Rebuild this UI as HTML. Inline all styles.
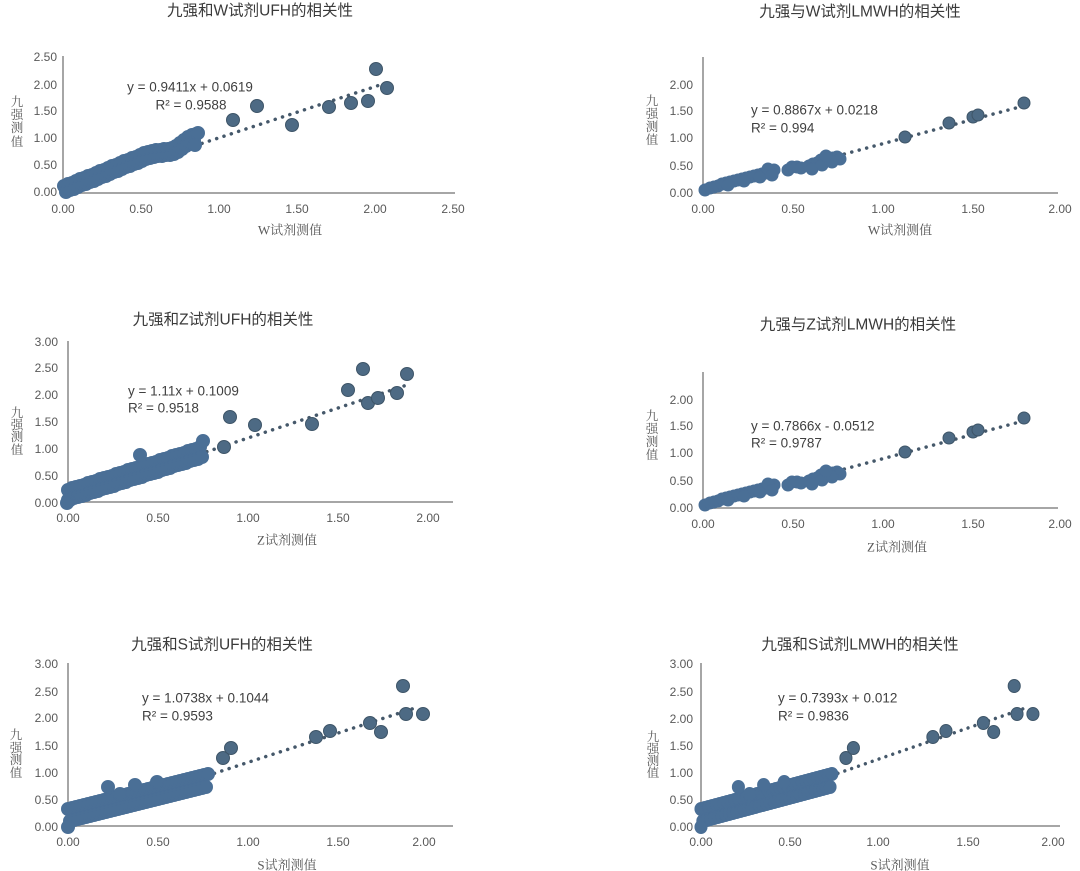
<!DOCTYPE html>
<html><head><meta charset="utf-8"><style>
html,body{margin:0;padding:0;background:#fff;}
svg{display:block;}
.t{font-family:"Liberation Sans","Noto Sans CJK SC",sans-serif;font-size:15.5px;fill:#3a3a3a;}
.tk{font-family:"Liberation Sans",sans-serif;font-size:12px;fill:#595959;}
.eq{font-family:"Liberation Sans",sans-serif;font-size:13.5px;fill:#404040;}
.ax{font-family:"Liberation Serif","Noto Serif CJK SC",serif;font-size:13px;fill:#595959;}
.yt{font-family:"Liberation Serif","Noto Serif CJK SC",serif;font-size:12.5px;fill:#595959;}
.axis{stroke:#a6a6a6;stroke-width:2;fill:none;}
.tr{stroke:#45586a;stroke-width:3.5;stroke-linecap:round;stroke-dasharray:0.1 7.6;fill:none;}
.d circle{fill:#4a6f96;stroke:#4a6f96;stroke-width:1;}
.o circle{fill:#4d6a84;stroke:#3e5568;stroke-width:1;}
</style></head><body>
<svg width="1080" height="871" viewBox="0 0 1080 871" xmlns="http://www.w3.org/2000/svg">
<rect width="1080" height="871" fill="#fff"/>

<!-- ============ Chart 1 ============ -->
<text class="t" x="260" y="11" text-anchor="middle" dominant-baseline="central">九强和W试剂UFH的相关性</text>
<path class="axis" d="M63 56 V193 H455"/>
<g class="tk" text-anchor="end" dominant-baseline="central">
<text x="57" y="192">0.00</text><text x="57" y="165">0.50</text><text x="57" y="138">1.00</text><text x="57" y="111">1.50</text><text x="57" y="85">2.00</text><text x="57" y="57">2.50</text>
</g>
<g class="tk" text-anchor="middle" dominant-baseline="central">
<text x="63" y="209">0.00</text><text x="141" y="209">0.50</text><text x="219" y="209">1.00</text><text x="297" y="209">1.50</text><text x="375" y="209">2.00</text><text x="453" y="209">2.50</text>
</g>
<g class="yt" text-anchor="middle" dominant-baseline="central"><text x="17" y="102">九</text><text x="17" y="115">强</text><text x="17" y="128">测</text><text x="17" y="142">值</text></g>
<text class="ax" x="290" y="230" text-anchor="middle" dominant-baseline="central">W试剂测值</text>
<text class="eq" x="190" y="87" text-anchor="middle" dominant-baseline="central">y = 0.9411x + 0.0619</text>
<text class="eq" x="191" y="105" text-anchor="middle" dominant-baseline="central">R² = 0.9588</text>
<path class="tr" d="M63 189 L386 83"/>
<g class="d">
<circle cx="64" cy="186" r="6.5"/><circle cx="66" cy="192" r="6.5"/><circle cx="68" cy="184" r="6.5"/><circle cx="70" cy="190" r="6.5"/><circle cx="72" cy="183" r="6.5"/><circle cx="74" cy="189" r="6.5"/><circle cx="76" cy="181" r="6.5"/><circle cx="78" cy="187" r="6.5"/><circle cx="80" cy="179" r="6.5"/><circle cx="82" cy="185" r="6.5"/><circle cx="84" cy="178" r="6.5"/><circle cx="86" cy="184" r="6.5"/><circle cx="88" cy="176" r="6.5"/><circle cx="90" cy="182" r="6.5"/><circle cx="92" cy="175" r="6.5"/><circle cx="94" cy="181" r="6.5"/><circle cx="96" cy="173" r="6.5"/><circle cx="98" cy="179" r="6.5"/><circle cx="100" cy="171" r="6.5"/><circle cx="102" cy="177" r="6.5"/><circle cx="104" cy="170" r="6.5"/><circle cx="106" cy="176" r="6.5"/><circle cx="108" cy="168" r="6.5"/><circle cx="110" cy="174" r="6.5"/><circle cx="112" cy="166" r="6.5"/><circle cx="114" cy="172" r="6.5"/><circle cx="116" cy="165" r="6.5"/><circle cx="118" cy="171" r="6.5"/><circle cx="120" cy="163" r="6.5"/><circle cx="122" cy="169" r="6.5"/><circle cx="124" cy="161" r="6.5"/><circle cx="126" cy="167" r="6.5"/><circle cx="128" cy="160" r="6.5"/><circle cx="130" cy="166" r="6.5"/><circle cx="132" cy="158" r="6.5"/><circle cx="134" cy="164" r="6.5"/><circle cx="136" cy="157" r="6.5"/><circle cx="138" cy="163" r="6.5"/><circle cx="140" cy="155" r="6.5"/><circle cx="142" cy="161" r="6.5"/><circle cx="144" cy="153" r="6.5"/><circle cx="146" cy="159" r="6.5"/><circle cx="148" cy="152" r="6.5"/><circle cx="150" cy="158" r="6.5"/><circle cx="152" cy="151" r="6.5"/><circle cx="154" cy="157" r="6.5"/><circle cx="156" cy="150" r="6.5"/><circle cx="158" cy="156" r="6.5"/><circle cx="160" cy="150" r="6.5"/><circle cx="162" cy="156" r="6.5"/><circle cx="164" cy="149" r="6.5"/><circle cx="166" cy="155" r="6.5"/><circle cx="168" cy="149" r="6.5"/><circle cx="170" cy="155" r="6.5"/><circle cx="172" cy="148" r="6.5"/><circle cx="174" cy="154" r="6.5"/><circle cx="176" cy="146" r="6.5"/><circle cx="178" cy="152" r="6.5"/><circle cx="180" cy="143" r="6.5"/><circle cx="182" cy="149" r="6.5"/><circle cx="184" cy="140" r="6.5"/><circle cx="186" cy="146" r="6.5"/><circle cx="188" cy="137" r="6.5"/><circle cx="190" cy="143" r="6.5"/><circle cx="192" cy="135" r="6.5"/><circle cx="194" cy="141" r="6.5"/><circle cx="196" cy="134" r="6.5"/><circle cx="198" cy="133" r="6.5"/><circle cx="195" cy="145" r="6.5"/>
</g>
<g class="o">
<circle cx="233" cy="120" r="6.5"/><circle cx="257" cy="106" r="6.5"/><circle cx="292" cy="125" r="6.5"/><circle cx="329" cy="107" r="6.5"/><circle cx="351" cy="103" r="6.5"/><circle cx="368" cy="101" r="6.5"/><circle cx="376" cy="69" r="6.5"/><circle cx="387" cy="88" r="6.5"/>
</g>

<!-- ============ Chart 2 ============ -->
<text class="t" x="860" y="12" text-anchor="middle" dominant-baseline="central">九强与W试剂LMWH的相关性</text>
<text class="t" x="858" y="325" text-anchor="middle" dominant-baseline="central">九强与Z试剂LMWH的相关性</text>
<g id="c2">
<path class="axis" d="M703 57 V193 H1058"/>
<g class="tk" text-anchor="end" dominant-baseline="central">
<text x="693" y="193">0.00</text><text x="693" y="166">0.50</text><text x="693" y="138">1.00</text><text x="693" y="111">1.50</text><text x="693" y="85">2.00</text>
</g>
<g class="tk" text-anchor="middle" dominant-baseline="central">
<text x="703" y="209">0.00</text><text x="793" y="209">0.50</text><text x="883" y="209">1.00</text><text x="973" y="209">1.50</text><text x="1060" y="209">2.00</text>
</g>
<g class="yt" text-anchor="middle" dominant-baseline="central"><text x="652" y="101">九</text><text x="652" y="114">强</text><text x="652" y="127">测</text><text x="652" y="140">值</text></g>
<path class="tr" d="M703 192 L1027 105"/>
<g class="d">
<circle cx="705" cy="190" r="6"/><circle cx="710" cy="188" r="6"/><circle cx="714" cy="187" r="6"/><circle cx="718" cy="186" r="6"/><circle cx="722" cy="184" r="6"/><circle cx="726" cy="183" r="6"/><circle cx="730" cy="182" r="6"/><circle cx="734" cy="181" r="6"/><circle cx="738" cy="180" r="6"/><circle cx="742" cy="179" r="6"/><circle cx="746" cy="178" r="6"/><circle cx="750" cy="177" r="6"/><circle cx="754" cy="176" r="6"/><circle cx="758" cy="175" r="6"/><circle cx="762" cy="174" r="6"/><circle cx="766" cy="173" r="6"/><circle cx="770" cy="172" r="6"/><circle cx="774" cy="170" r="6"/>
<circle cx="728" cy="185" r="6"/><circle cx="744" cy="181" r="6"/><circle cx="760" cy="177" r="6"/><circle cx="768" cy="169" r="6"/><circle cx="772" cy="175" r="6"/>
<circle cx="788" cy="170" r="6"/><circle cx="792" cy="167" r="6"/><circle cx="797" cy="167" r="6"/><circle cx="801" cy="168" r="6"/><circle cx="809" cy="166" r="6"/><circle cx="813" cy="164" r="6"/><circle cx="817" cy="163" r="6"/><circle cx="821" cy="160" r="6"/><circle cx="825" cy="159" r="6"/><circle cx="829" cy="158" r="6"/><circle cx="833" cy="158" r="6"/><circle cx="837" cy="157" r="6"/><circle cx="840" cy="159" r="6"/>
<circle cx="812" cy="169" r="6"/><circle cx="822" cy="165" r="6"/><circle cx="832" cy="162" r="6"/><circle cx="826" cy="156" r="6"/>
</g>
<g class="o">
<circle cx="905" cy="137" r="6"/><circle cx="949" cy="123" r="6"/><circle cx="973" cy="117" r="6"/><circle cx="978" cy="115" r="6"/><circle cx="1024" cy="103" r="6"/>
</g>
</g>
<text class="ax" x="900" y="230" text-anchor="middle" dominant-baseline="central">W试剂测值</text>
<text class="eq" x="751" y="110" dominant-baseline="central">y = 0.8867x + 0.0218</text>
<text class="eq" x="751" y="128" dominant-baseline="central">R² = 0.994</text>

<!-- ============ Chart 4 (same geometry as chart 2) ============ -->
<use href="#c2" transform="translate(0,315)"/>
<text class="ax" x="897" y="547" text-anchor="middle" dominant-baseline="central">Z试剂测值</text>
<text class="eq" x="751" y="426" dominant-baseline="central">y = 0.7866x - 0.0512</text>
<text class="eq" x="751" y="443" dominant-baseline="central">R² = 0.9787</text>

<!-- ============ Chart 3 ============ -->
<text class="t" x="223" y="320" text-anchor="middle" dominant-baseline="central">九强和Z试剂UFH的相关性</text>
<path class="axis" d="M68 341 V502 H453"/>
<g class="tk" text-anchor="end" dominant-baseline="central">
<text x="58" y="503">0.00</text><text x="58" y="476">0.50</text><text x="58" y="449">1.00</text><text x="58" y="422">1.50</text><text x="58" y="395">2.00</text><text x="58" y="368">2.50</text><text x="58" y="342">3.00</text>
</g>
<g class="tk" text-anchor="middle" dominant-baseline="central">
<text x="68" y="518">0.00</text><text x="158" y="518">0.50</text><text x="248" y="518">1.00</text><text x="338" y="518">1.50</text><text x="428" y="518">2.00</text>
</g>
<g class="yt" text-anchor="middle" dominant-baseline="central"><text x="17" y="413">九</text><text x="17" y="425">强</text><text x="17" y="437">测</text><text x="17" y="450">值</text></g>
<text class="ax" x="287" y="540" text-anchor="middle" dominant-baseline="central">Z试剂测值</text>
<text class="eq" x="128" y="391" dominant-baseline="central">y = 1.11x + 0.1009</text>
<text class="eq" x="128" y="408" dominant-baseline="central">R² = 0.9518</text>
<path class="tr" d="M68 498 L410 384"/>
<g class="d">
<circle cx="68" cy="490" r="6.5"/><circle cx="70" cy="500" r="6.5"/><circle cx="72" cy="488" r="6.5"/><circle cx="74" cy="498" r="6.5"/><circle cx="76" cy="487" r="6.5"/><circle cx="78" cy="497" r="6.5"/><circle cx="80" cy="486" r="6.5"/><circle cx="82" cy="496" r="6.5"/><circle cx="84" cy="485" r="6.5"/><circle cx="86" cy="495" r="6.5"/><circle cx="88" cy="483" r="6.5"/><circle cx="90" cy="493" r="6.5"/><circle cx="92" cy="482" r="6.5"/><circle cx="94" cy="492" r="6.5"/><circle cx="96" cy="481" r="6.5"/><circle cx="98" cy="491" r="6.5"/><circle cx="100" cy="479" r="6.5"/><circle cx="102" cy="489" r="6.5"/><circle cx="104" cy="478" r="6.5"/><circle cx="106" cy="488" r="6.5"/><circle cx="108" cy="477" r="6.5"/><circle cx="110" cy="487" r="6.5"/><circle cx="112" cy="476" r="6.5"/><circle cx="114" cy="486" r="6.5"/><circle cx="116" cy="474" r="6.5"/><circle cx="118" cy="484" r="6.5"/><circle cx="120" cy="473" r="6.5"/><circle cx="122" cy="483" r="6.5"/><circle cx="124" cy="472" r="6.5"/><circle cx="126" cy="482" r="6.5"/><circle cx="128" cy="470" r="6.5"/><circle cx="130" cy="480" r="6.5"/><circle cx="132" cy="469" r="6.5"/><circle cx="134" cy="479" r="6.5"/><circle cx="136" cy="468" r="6.5"/><circle cx="138" cy="478" r="6.5"/><circle cx="140" cy="467" r="6.5"/><circle cx="142" cy="477" r="6.5"/><circle cx="144" cy="465" r="6.5"/><circle cx="146" cy="475" r="6.5"/><circle cx="148" cy="464" r="6.5"/><circle cx="150" cy="474" r="6.5"/><circle cx="152" cy="463" r="6.5"/><circle cx="154" cy="473" r="6.5"/><circle cx="156" cy="462" r="6.5"/><circle cx="158" cy="472" r="6.5"/><circle cx="160" cy="460" r="6.5"/><circle cx="162" cy="470" r="6.5"/><circle cx="164" cy="459" r="6.5"/><circle cx="166" cy="469" r="6.5"/><circle cx="168" cy="458" r="6.5"/><circle cx="170" cy="468" r="6.5"/><circle cx="172" cy="456" r="6.5"/><circle cx="174" cy="466" r="6.5"/><circle cx="176" cy="455" r="6.5"/><circle cx="178" cy="465" r="6.5"/><circle cx="180" cy="454" r="6.5"/><circle cx="182" cy="464" r="6.5"/><circle cx="184" cy="453" r="6.5"/><circle cx="186" cy="463" r="6.5"/><circle cx="188" cy="451" r="6.5"/><circle cx="190" cy="461" r="6.5"/><circle cx="192" cy="450" r="6.5"/><circle cx="194" cy="460" r="6.5"/><circle cx="196" cy="449" r="6.5"/><circle cx="198" cy="459" r="6.5"/><circle cx="200" cy="447" r="6.5"/><circle cx="202" cy="457" r="6.5"/>
<circle cx="140" cy="455" r="6.5"/><circle cx="68" cy="500" r="6.5"/><circle cx="67" cy="503" r="6.5"/><circle cx="203" cy="441" r="6.5"/>
</g>
<g class="o">
<circle cx="224" cy="447" r="6.5"/><circle cx="230" cy="417" r="6.5"/><circle cx="255" cy="425" r="6.5"/><circle cx="312" cy="424" r="6.5"/><circle cx="348" cy="390" r="6.5"/><circle cx="363" cy="369" r="6.5"/><circle cx="368" cy="403" r="6.5"/><circle cx="378" cy="398" r="6.5"/><circle cx="397" cy="393" r="6.5"/><circle cx="407" cy="374" r="6.5"/>
</g>

<!-- ============ Chart 5 ============ -->
<text class="t" x="222" y="645" text-anchor="middle" dominant-baseline="central">九强和S试剂UFH的相关性</text>
<path class="axis" d="M68 663 V826 H453"/>
<g class="tk" text-anchor="end" dominant-baseline="central">
<text x="58" y="827">0.00</text><text x="58" y="800">0.50</text><text x="58" y="773">1.00</text><text x="58" y="746">1.50</text><text x="58" y="718">2.00</text><text x="58" y="692">2.50</text><text x="58" y="664">3.00</text>
</g>
<g class="tk" text-anchor="middle" dominant-baseline="central">
<text x="68" y="842">0.00</text><text x="158" y="842">0.50</text><text x="248" y="842">1.00</text><text x="338" y="842">1.50</text><text x="424" y="842">2.00</text>
</g>
<g class="yt" text-anchor="middle" dominant-baseline="central"><text x="16" y="735">九</text><text x="16" y="748">强</text><text x="16" y="760">测</text><text x="16" y="773">值</text></g>
<text class="ax" x="287" y="865" text-anchor="middle" dominant-baseline="central">S试剂测值</text>
<text class="eq" x="142" y="698" dominant-baseline="central">y = 1.0738x + 0.1044</text>
<text class="eq" x="142" y="716" dominant-baseline="central">R² = 0.9593</text>
<g id="c5">
<path class="tr" d="M68 821 L418 707"/>
<g class="d">
<circle cx="68" cy="809" r="6.5"/><circle cx="70" cy="821" r="6.5"/><circle cx="72" cy="808" r="6.5"/><circle cx="74" cy="820" r="6.5"/><circle cx="76" cy="807" r="6.5"/><circle cx="78" cy="819" r="6.5"/><circle cx="80" cy="806" r="6.5"/><circle cx="82" cy="818" r="6.5"/><circle cx="84" cy="805" r="6.5"/><circle cx="86" cy="817" r="6.5"/><circle cx="88" cy="804" r="6.5"/><circle cx="90" cy="816" r="6.5"/><circle cx="92" cy="803" r="6.5"/><circle cx="94" cy="815" r="6.5"/><circle cx="96" cy="802" r="6.5"/><circle cx="98" cy="814" r="6.5"/><circle cx="100" cy="801" r="6.5"/><circle cx="102" cy="813" r="6.5"/><circle cx="104" cy="800" r="6.5"/><circle cx="106" cy="812" r="6.5"/><circle cx="108" cy="799" r="6.5"/><circle cx="110" cy="811" r="6.5"/><circle cx="112" cy="798" r="6.5"/><circle cx="114" cy="810" r="6.5"/><circle cx="116" cy="797" r="6.5"/><circle cx="118" cy="809" r="6.5"/><circle cx="120" cy="796" r="6.5"/><circle cx="122" cy="808" r="6.5"/><circle cx="124" cy="795" r="6.5"/><circle cx="126" cy="807" r="6.5"/><circle cx="128" cy="794" r="6.5"/><circle cx="130" cy="806" r="6.5"/><circle cx="132" cy="793" r="6.5"/><circle cx="134" cy="805" r="6.5"/><circle cx="136" cy="792" r="6.5"/><circle cx="138" cy="804" r="6.5"/><circle cx="140" cy="791" r="6.5"/><circle cx="142" cy="803" r="6.5"/><circle cx="144" cy="790" r="6.5"/><circle cx="146" cy="802" r="6.5"/><circle cx="148" cy="789" r="6.5"/><circle cx="150" cy="801" r="6.5"/><circle cx="152" cy="788" r="6.5"/><circle cx="154" cy="800" r="6.5"/><circle cx="156" cy="787" r="6.5"/><circle cx="158" cy="799" r="6.5"/><circle cx="160" cy="786" r="6.5"/><circle cx="162" cy="798" r="6.5"/><circle cx="164" cy="785" r="6.5"/><circle cx="166" cy="797" r="6.5"/><circle cx="168" cy="784" r="6.5"/><circle cx="170" cy="796" r="6.5"/><circle cx="172" cy="783" r="6.5"/><circle cx="174" cy="795" r="6.5"/><circle cx="176" cy="782" r="6.5"/><circle cx="178" cy="794" r="6.5"/><circle cx="180" cy="781" r="6.5"/><circle cx="182" cy="793" r="6.5"/><circle cx="184" cy="780" r="6.5"/><circle cx="186" cy="792" r="6.5"/><circle cx="188" cy="779" r="6.5"/><circle cx="190" cy="791" r="6.5"/><circle cx="192" cy="778" r="6.5"/><circle cx="194" cy="790" r="6.5"/><circle cx="196" cy="777" r="6.5"/><circle cx="198" cy="789" r="6.5"/><circle cx="200" cy="776" r="6.5"/><circle cx="202" cy="788" r="6.5"/><circle cx="204" cy="775" r="6.5"/><circle cx="206" cy="787" r="6.5"/>
<circle cx="68" cy="827" r="6.5"/><circle cx="108" cy="787" r="6.5"/><circle cx="120" cy="794" r="6.5"/><circle cx="135" cy="785" r="6.5"/><circle cx="157" cy="782" r="6.5"/><circle cx="208" cy="774" r="6.5"/>
</g>
<g class="o">
<circle cx="223" cy="758" r="6.5"/><circle cx="231" cy="748" r="6.5"/><circle cx="316" cy="737" r="6.5"/><circle cx="330" cy="731" r="6.5"/><circle cx="370" cy="723" r="6.5"/><circle cx="381" cy="732" r="6.5"/><circle cx="403" cy="686" r="6.5"/><circle cx="406" cy="714" r="6.5"/><circle cx="423" cy="714" r="6.5"/>
</g>
</g>

<!-- ============ Chart 6 ============ -->
<text class="t" x="860" y="645" text-anchor="middle" dominant-baseline="central">九强和S试剂LMWH的相关性</text>
<path class="axis" d="M701 663 V826 H1060"/>
<g class="tk" text-anchor="end" dominant-baseline="central">
<text x="693" y="827">0.00</text><text x="693" y="800">0.50</text><text x="693" y="773">1.00</text><text x="693" y="746">1.50</text><text x="693" y="719">2.00</text><text x="693" y="692">2.50</text><text x="693" y="664">3.00</text>
</g>
<g class="tk" text-anchor="middle" dominant-baseline="central">
<text x="701" y="842">0.00</text><text x="790" y="842">0.50</text><text x="878" y="842">1.00</text><text x="968" y="842">1.50</text><text x="1053" y="842">2.00</text>
</g>
<g class="yt" text-anchor="middle" dominant-baseline="central"><text x="653" y="737">九</text><text x="653" y="749">强</text><text x="653" y="761">测</text><text x="653" y="773">值</text></g>
<text class="ax" x="900" y="865" text-anchor="middle" dominant-baseline="central">S试剂测值</text>
<text class="eq" x="778" y="698" dominant-baseline="central">y = 0.7393x + 0.012</text>
<text class="eq" x="778" y="716" dominant-baseline="central">R² = 0.9836</text>
<use href="#c5" transform="translate(701,0) scale(0.935,1) translate(-68,0)"/>
</svg>
</body></html>
